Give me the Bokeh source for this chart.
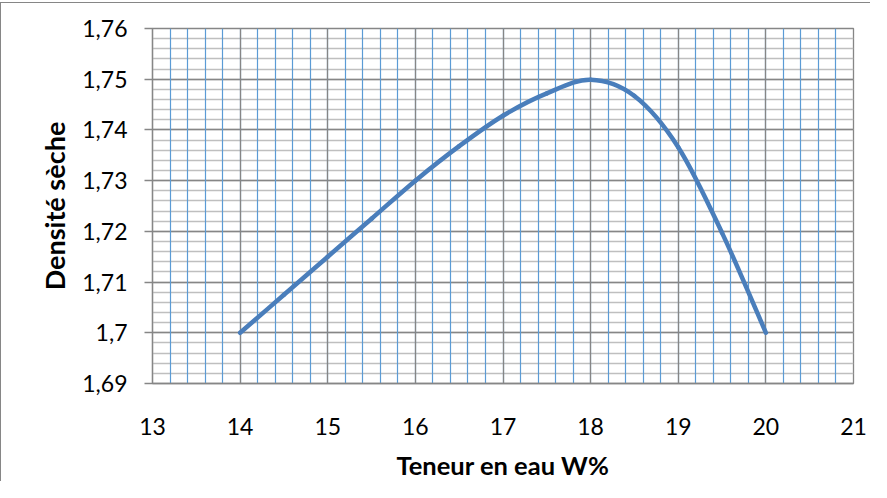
import numpy as np
from bokeh.plotting import figure
from bokeh.models import FixedTicker, Range1d
from bokeh.embed import file_html
from bokeh.resources import INLINE

# Curve readings (Teneur en eau W% -> Densité sèche)
water = [14.0, 14.5, 15.0, 15.5, 16.0, 16.5, 17.0, 17.5, 18.0, 18.5, 19.0, 19.5, 20.0]
density = [1.7000, 1.7075, 1.7150, 1.7225, 1.7300, 1.7368, 1.7428, 1.7472, 1.7499,
           1.7467, 1.7366, 1.7197, 1.7000]

x_ticks = [13, 14, 15, 16, 17, 18, 19, 20, 21]
x_labels = ["13", "14", "15", "16", "17", "18", "19", "20", "21"]
y_ticks = [1.69, 1.70, 1.71, 1.72, 1.73, 1.74, 1.75, 1.76]
y_labels = ["1,69", "1,7", "1,71", "1,72", "1,73", "1,74", "1,75", "1,76"]

x_title = "Teneur en eau W%"
y_title = "Densité sèche"

W, H = 870, 479
p = figure(width=W, height=H,
           x_range=Range1d(13, 21), y_range=Range1d(1.69, 1.76),
           output_backend="svg", toolbar_location=None,
           min_border_left=151, min_border_right=18,
           min_border_top=25, min_border_bottom=99)
p.styles = {"border-top": "1px solid #868686",
            "border-left": "1px solid #868686",
            "margin-top": "2px"}
p.background_fill_color = "white"
p.border_fill_color = "white"
p.outline_line_color = "#868686"
p.outline_line_width = 1.3

x_minor = [13 + 0.2 * i for i in range(41)]
y_minor = [1.69 + 0.002 * i for i in range(36)]

xt = FixedTicker(ticks=x_ticks, minor_ticks=x_minor)
yt = FixedTicker(ticks=y_ticks, minor_ticks=y_minor)
p.xaxis.ticker = xt
p.yaxis.ticker = yt
p.xgrid.ticker = xt
p.ygrid.ticker = yt
p.xaxis.major_label_overrides = {t: l for t, l in zip(x_ticks, x_labels)}
p.yaxis.major_label_overrides = {t: l for t, l in zip(y_ticks, y_labels)}

# grids
p.xgrid.grid_line_color = "#868686"
p.xgrid.grid_line_width = 1.3
p.xgrid.minor_grid_line_color = "#5B9BD5"
p.xgrid.minor_grid_line_width = 1.2
p.ygrid.grid_line_color = "#868686"
p.ygrid.grid_line_width = 1.3
p.ygrid.minor_grid_line_color = "#BFBFBF"
p.ygrid.minor_grid_line_width = 1.3
p.ygrid.level = "image"

# axes
for ax in (p.xaxis[0], p.yaxis[0]):
    ax.axis_line_color = "#868686"
    ax.axis_line_width = 1.3
    ax.minor_tick_line_color = None
    ax.major_label_text_font = "Lato"
    ax.major_label_text_font_size = "23px"
    ax.major_label_text_color = "black"
    ax.axis_label_text_font = "Lato"
    ax.axis_label_text_font_size = "25.5px"
    ax.axis_label_text_font_style = "bold"
    ax.axis_label_text_color = "black"

p.xaxis.major_tick_line_color = None
p.xaxis.major_tick_out = 0
p.xaxis.major_tick_in = 0
p.xaxis.major_label_standoff = 30
p.xaxis.axis_label = x_title
p.xaxis.axis_label_standoff = 12

p.yaxis.major_tick_line_color = "#868686"
p.yaxis.major_tick_line_width = 1.3
p.yaxis.major_tick_out = 8
p.yaxis.major_tick_in = 0
p.yaxis.major_label_standoff = 17
p.yaxis.axis_label = y_title
p.yaxis.axis_label_standoff = 8
p.yaxis.axis_label_text_font_size = "27px"

# smooth curve through the readings (Catmull-Rom -> cubic Bezier)
xs = np.array(water, dtype=float)
ys = np.array(density, dtype=float)
n = len(xs)
xp = np.concatenate([[xs[0]], xs, [xs[-1]]])
yp = np.concatenate([[ys[0]], ys, [ys[-1]]])
cx0 = xs[:-1] + (xp[2:n + 1] - xp[0:n - 1]) / 6.0
cy0 = ys[:-1] + (yp[2:n + 1] - yp[0:n - 1]) / 6.0
cx1 = xs[1:] - (xp[3:n + 2] - xp[1:n]) / 6.0
cy1 = ys[1:] - (yp[3:n + 2] - yp[1:n]) / 6.0
p.bezier(x0=xs[:-1], y0=ys[:-1], x1=xs[1:], y1=ys[1:],
         cx0=cx0, cy0=cy0, cx1=cx1, cy1=cy1,
         line_color="#4A7EBB", line_width=4.5, line_cap="round")

open("out.html", "w").write(file_html(p, INLINE))
